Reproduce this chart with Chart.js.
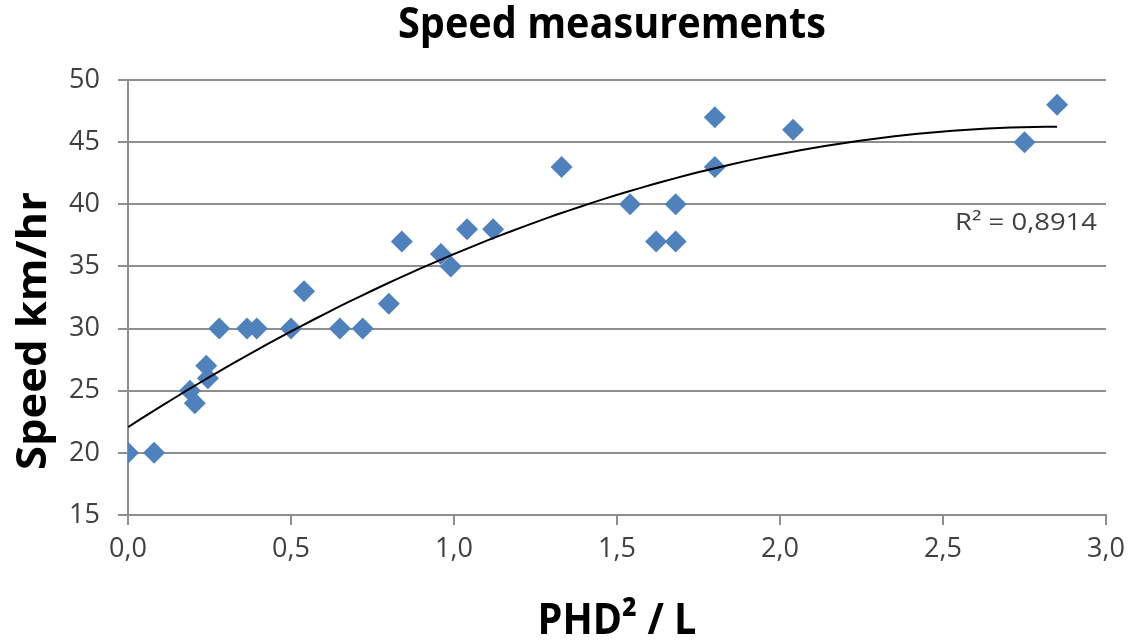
<!DOCTYPE html>
<html><head><meta charset="utf-8">
<script src="https://cdn.jsdelivr.net/npm/chart.js@4/dist/chart.umd.min.js"></script>
<style>html,body{margin:0;padding:0;background:#fff;overflow:hidden}#wrap{width:1128px;height:641px;position:relative}</style>
</head><body><div id="wrap"><canvas id="c" width="1128" height="641"></canvas></div>
<script>
const xValues = [0, 0.08, 0.205, 0.19, 0.245, 0.24, 0.28, 0.365, 0.395, 0.50, 0.54, 0.65, 0.72, 0.80, 0.84, 0.96, 0.99, 1.04, 1.12, 1.33, 1.54, 1.62, 1.68, 1.68, 1.80, 1.80, 2.04, 2.75, 2.85];
const yValues = [20, 20, 24, 25, 26, 27, 30, 30, 30, 30, 33, 30, 30, 32, 37, 36, 35, 38, 38, 43, 40, 37, 37, 40, 47, 43, 46, 45, 48];
const xTicks = [0, 0.5, 1, 1.5, 2, 2.5, 3];
const yTicks = [15, 20, 25, 30, 35, 40, 45, 50];
const chartTitle = 'Speed measurements';
const xTitle = 'PHD² / L';
const yTitle = 'Speed km/hr';
const r2Label = 'R² = 0,8914';

// Polynomial (order 2) least-squares trendline, as in the original spreadsheet
function quadFit(xs, ys) {
  let S = [0,0,0,0,0], T = [0,0,0];
  for (let i = 0; i < xs.length; i++) {
    const x = xs[i], y = ys[i];
    let p = 1;
    for (let k = 0; k < 5; k++) { S[k] += p; if (k < 3) T[k] += p * y; p *= x; }
  }
  const A = [[S[0],S[1],S[2],T[0]],[S[1],S[2],S[3],T[1]],[S[2],S[3],S[4],T[2]]];
  for (let c = 0; c < 3; c++) {
    for (let r = c + 1; r < 3; r++) {
      const f = A[r][c] / A[c][c];
      for (let k = c; k < 4; k++) A[r][k] -= f * A[c][k];
    }
  }
  const sol = [0,0,0];
  for (let r = 2; r >= 0; r--) {
    let s = A[r][3];
    for (let k = r + 1; k < 3; k++) s -= A[r][k] * sol[k];
    sol[r] = s / A[r][r];
  }
  return sol;
}
const coef = quadFit(xValues, yValues);
const xMin = Math.min(...xValues), xMax = Math.max(...xValues);
const trendPoints = [];
const N = 80;
for (let i = 0; i <= N; i++) {
  const x = xMin + (xMax - xMin) * i / N;
  trendPoints.push({x: x, y: coef[0] + coef[1] * x + coef[2] * x * x});
}
const points = xValues.map((x, i) => ({x: x, y: yValues[i]}));

function fitText(ctx, text, x, y, font, targetW, align, rot, color) {
  ctx.save();
  ctx.font = font;
  ctx.fillStyle = color;
  ctx.textBaseline = 'alphabetic';
  const w = ctx.measureText(text).width;
  const sx = targetW / w;
  ctx.translate(x, y);
  if (rot) ctx.rotate(rot);
  ctx.scale(sx, 1);
  ctx.textAlign = align;
  ctx.fillText(text, 0, 0);
  ctx.restore();
}

const textPlugin = {
  id: 'texts',
  afterDraw(chart) {
    const ctx = chart.ctx;
    fitText(ctx, chartTitle, 612, 38, 'bold 43px "Open Sans"', 428, 'center', 0, '#000');
    fitText(ctx, yTitle, 46, 331, 'bold 41px "Open Sans"', 278, 'center', -Math.PI / 2, '#000');
    fitText(ctx, xTitle, 617, 634, 'bold 43px "Open Sans"', 159, 'center', 0, '#000');
    fitText(ctx, r2Label, 955, 230, '24px "Open Sans"', 142, 'left', 0, '#404040');
  }
};

const gridColor = '#8e8e8e';
new Chart(document.getElementById('c').getContext('2d'), {
  type: 'scatter',
  data: {
    datasets: [
      {
        label: 'Speed', data: points, pointStyle: 'rectRot', pointRadius: 11, pointHoverRadius: 11,
        backgroundColor: '#4F81BD', borderColor: '#4F81BD', borderWidth: 0, order: 1
      },
      {
        label: 'Trend', type: 'line', data: trendPoints, showLine: true, borderColor: '#000',
        borderWidth: 2, pointRadius: 0, fill: false, tension: 0, order: 0
      }
    ]
  },
  options: {
    responsive: false, animation: false, devicePixelRatio: 1,
    layout: { padding: { left: 0, top: 80, right: 22, bottom: 0 } },
    plugins: { legend: { display: false }, title: { display: false }, tooltip: { enabled: false } },
    scales: {
      x: {
        type: 'linear', min: 0, max: 3,
        afterBuildTicks: s => { s.ticks = xTicks.map(v => ({ value: v })); },
        ticks: {
          font: { family: 'Open Sans', size: 27 }, color: '#404040', padding: 8,
          maxRotation: 0, minRotation: 0, autoSkip: false,
          callback: v => Number(v).toFixed(1).replace('.', ',')
        },
        grid: { drawOnChartArea: false, drawTicks: true, tickLength: 10, color: gridColor, lineWidth: 2 },
        border: { color: gridColor, width: 2 },
        afterFit: s => { s.height = 126; s.paddingLeft = 0; s.paddingRight = 0; }
      },
      y: {
        type: 'linear', min: 15, max: 50,
        afterBuildTicks: s => { s.ticks = yTicks.map(v => ({ value: v })); },
        ticks: { font: { family: 'Open Sans', size: 27 }, color: '#404040', padding: 18, autoSkip: false },
        grid: { drawTicks: true, tickLength: 10, color: gridColor, lineWidth: 2 },
        border: { color: gridColor, width: 2 },
        afterFit: s => { s.width = 128; s.paddingTop = 0; s.paddingBottom = 0; }
      }
    }
  },
  plugins: [textPlugin]
});
</script>
</body></html>
